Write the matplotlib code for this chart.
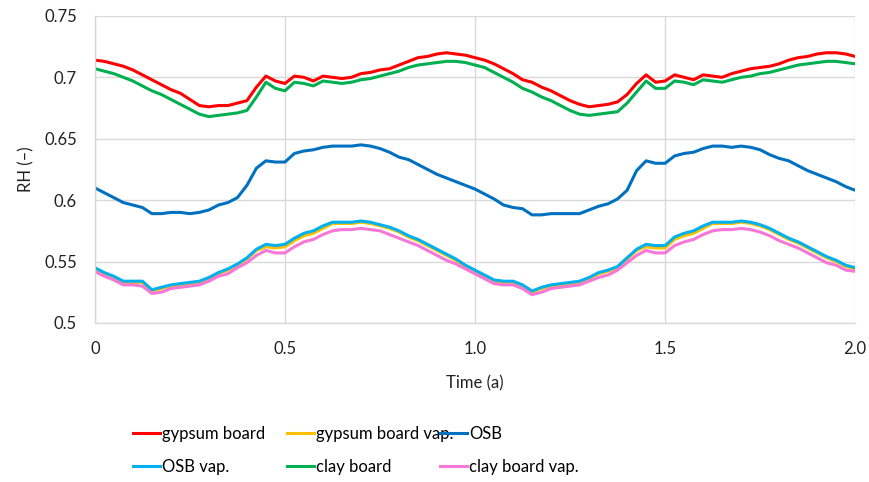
import matplotlib
matplotlib.use("Agg")
import matplotlib.pyplot as plt
from matplotlib.lines import Line2D
import numpy as np

plt.rcParams['font.family'] = ['Lato', 'DejaVu Sans']

# time axis in years, sampled every 0.025 a
time = np.linspace(0, 2, 81)

gypsum = [0.714, 0.713, 0.711, 0.709, 0.706, 0.702, 0.698, 0.694, 0.690, 0.687,
          0.682, 0.677, 0.676, 0.677, 0.677, 0.679, 0.681, 0.692, 0.701, 0.697,
          0.695, 0.701, 0.700, 0.697, 0.701, 0.700, 0.699, 0.700, 0.703, 0.704,
          0.706, 0.707, 0.710, 0.713, 0.716, 0.717, 0.719, 0.720, 0.719, 0.718,
          0.716, 0.714, 0.711, 0.707, 0.703, 0.698, 0.696, 0.692, 0.689, 0.685,
          0.681, 0.678, 0.676, 0.677, 0.678, 0.680, 0.686, 0.695, 0.702, 0.696,
          0.697, 0.702, 0.700, 0.698, 0.702, 0.701, 0.700, 0.703, 0.705, 0.707,
          0.708, 0.709, 0.711, 0.714, 0.716, 0.717, 0.719, 0.720, 0.720, 0.719,
          0.717]

gypsum_vap = [0.544, 0.540, 0.537, 0.533, 0.533, 0.533, 0.526, 0.528, 0.530, 0.531,
              0.532, 0.533, 0.536, 0.540, 0.543, 0.547, 0.552, 0.559, 0.562, 0.561,
              0.562, 0.567, 0.571, 0.573, 0.577, 0.581, 0.581, 0.581, 0.582, 0.581,
              0.579, 0.577, 0.574, 0.570, 0.567, 0.563, 0.559, 0.555, 0.551, 0.546,
              0.542, 0.538, 0.534, 0.533, 0.533, 0.530, 0.525, 0.528, 0.530, 0.531,
              0.532, 0.533, 0.536, 0.540, 0.542, 0.545, 0.552, 0.559, 0.562, 0.561,
              0.561, 0.568, 0.571, 0.573, 0.577, 0.581, 0.581, 0.581, 0.582, 0.581,
              0.579, 0.576, 0.572, 0.568, 0.565, 0.561, 0.557, 0.553, 0.550, 0.546,
              0.544]

osb = [0.610, 0.606, 0.602, 0.598, 0.596, 0.594, 0.589, 0.589, 0.590, 0.590,
       0.589, 0.590, 0.592, 0.596, 0.598, 0.602, 0.612, 0.626, 0.632, 0.631,
       0.631, 0.638, 0.640, 0.641, 0.643, 0.644, 0.644, 0.644, 0.645, 0.644,
       0.642, 0.639, 0.635, 0.633, 0.629, 0.625, 0.621, 0.618, 0.615, 0.612,
       0.609, 0.605, 0.601, 0.596, 0.594, 0.593, 0.588, 0.588, 0.589, 0.589,
       0.589, 0.589, 0.592, 0.595, 0.597, 0.601, 0.608, 0.624, 0.632, 0.630,
       0.630, 0.636, 0.638, 0.639, 0.642, 0.644, 0.644, 0.643, 0.644, 0.643,
       0.641, 0.637, 0.634, 0.632, 0.628, 0.624, 0.621, 0.618, 0.615, 0.611,
       0.608]

osb_vap = [0.545, 0.541, 0.538, 0.534, 0.534, 0.534, 0.527, 0.529, 0.531, 0.532,
           0.533, 0.534, 0.537, 0.541, 0.544, 0.548, 0.553, 0.560, 0.564, 0.563,
           0.564, 0.569, 0.573, 0.575, 0.579, 0.582, 0.582, 0.582, 0.583, 0.582,
           0.580, 0.578, 0.575, 0.571, 0.568, 0.564, 0.560, 0.556, 0.552, 0.547,
           0.543, 0.539, 0.535, 0.534, 0.534, 0.531, 0.526, 0.529, 0.531, 0.532,
           0.533, 0.534, 0.537, 0.541, 0.543, 0.546, 0.553, 0.560, 0.564, 0.563,
           0.563, 0.570, 0.573, 0.575, 0.579, 0.582, 0.582, 0.582, 0.583, 0.582,
           0.580, 0.577, 0.573, 0.569, 0.566, 0.562, 0.558, 0.554, 0.551, 0.547,
           0.545]

clay = [0.707, 0.705, 0.703, 0.700, 0.697, 0.693, 0.689, 0.686, 0.682, 0.678,
        0.674, 0.670, 0.668, 0.669, 0.670, 0.671, 0.673, 0.684, 0.696, 0.691,
        0.689, 0.696, 0.695, 0.693, 0.697, 0.696, 0.695, 0.696, 0.698, 0.699,
        0.701, 0.703, 0.705, 0.708, 0.710, 0.711, 0.712, 0.713, 0.713, 0.712,
        0.710, 0.708, 0.704, 0.700, 0.696, 0.691, 0.688, 0.684, 0.681, 0.677,
        0.673, 0.670, 0.669, 0.670, 0.671, 0.672, 0.679, 0.688, 0.697, 0.691,
        0.691, 0.697, 0.696, 0.694, 0.698, 0.697, 0.696, 0.698, 0.700, 0.701,
        0.703, 0.704, 0.706, 0.708, 0.710, 0.711, 0.712, 0.713, 0.713, 0.712,
        0.711]

clay_vap = [0.542, 0.538, 0.535, 0.531, 0.531, 0.530, 0.524, 0.525, 0.528, 0.529,
            0.530, 0.531, 0.534, 0.538, 0.540, 0.545, 0.549, 0.555, 0.559, 0.557,
            0.557, 0.562, 0.566, 0.568, 0.572, 0.575, 0.576, 0.576, 0.577, 0.576,
            0.575, 0.572, 0.569, 0.566, 0.563, 0.559, 0.555, 0.551, 0.548, 0.544,
            0.540, 0.536, 0.532, 0.531, 0.531, 0.528, 0.523, 0.525, 0.528, 0.529,
            0.530, 0.531, 0.534, 0.537, 0.539, 0.543, 0.549, 0.555, 0.559, 0.557,
            0.557, 0.563, 0.566, 0.568, 0.572, 0.575, 0.576, 0.576, 0.577, 0.576,
            0.574, 0.571, 0.567, 0.564, 0.561, 0.557, 0.553, 0.549, 0.547, 0.543,
            0.542]

series = [
    ("gypsum board", gypsum, "#FF0000"),
    ("gypsum board vap.", gypsum_vap, "#FFC000"),
    ("OSB", osb, "#0070C0"),
    ("OSB vap.", osb_vap, "#00B0F0"),
    ("clay board", clay, "#00B050"),
    ("clay board vap.", clay_vap, "#F777D6"),
]

x_ticks = [0, 0.5, 1.0, 1.5, 2.0]
x_labels = ["0", "0.5", "1.0", "1.5", "2.0"]
y_ticks = [0.5, 0.55, 0.6, 0.65, 0.7, 0.75]
y_labels = ["0.5", "0.55", "0.6", "0.65", "0.7", "0.75"]

fig = plt.figure(figsize=(8.7, 4.82), dpi=100)
ax = fig.add_axes([0.109, 0.330, 0.874, 0.637])

for name, vals, col in series:
    ax.plot(time, vals, color=col, lw=2.2, label=name, solid_capstyle="butt")

ax.set_xlim(0, 2)
ax.set_ylim(0.5, 0.75)
ax.set_xticks(x_ticks)
ax.set_xticklabels(x_labels)
ax.set_yticks(y_ticks)
ax.set_yticklabels(y_labels)
ax.tick_params(length=0, labelsize=12, colors="#222222")
ax.tick_params(axis="x", pad=13)
ax.tick_params(axis="y", pad=13)
ax.grid(True, color="#d9d9d9", lw=1)
ax.set_axisbelow(True)
for side in ["top", "right"]:
    ax.spines[side].set_visible(False)
for side in ["left", "bottom"]:
    ax.spines[side].set_color("#d9d9d9")
    ax.spines[side].set_linewidth(1)

ax.set_xlabel("Time (a)", fontsize=12, labelpad=13, color="#222222")
ax.set_ylabel("RH (\u2013)", fontsize=12, labelpad=7, color="#222222")

# legend: two rows of three, laid out column by column
col_x = [0.153, 0.330, 0.506]
cols = [[0, 3], [1, 4], [2, 5]]
for cx, idx in zip(col_x, cols):
    handles = [Line2D([], [], color=series[i][2], lw=2.2) for i in idx]
    labels = [series[i][0] for i in idx]
    fig.legend(handles, labels, loc="upper left", bbox_to_anchor=(cx, 0.116),
               frameon=False, fontsize=12, handlelength=1.6, handletextpad=0.15,
               borderpad=0, borderaxespad=0, labelspacing=1.0)

fig.savefig("out.png", dpi=100)
